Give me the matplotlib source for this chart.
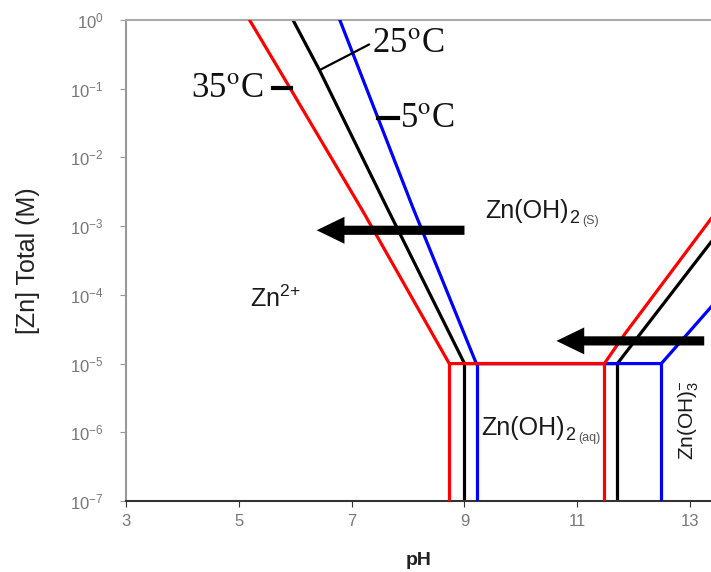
import numpy as np
import matplotlib
matplotlib.use('Agg')
import matplotlib.pyplot as plt

plt.rcParams['font.family'] = ['Liberation Sans', 'DejaVu Sans']
plt.rcParams['mathtext.fontset'] = 'custom'
plt.rcParams['mathtext.rm'] = 'Liberation Sans'
plt.rcParams['mathtext.it'] = 'Liberation Sans:italic'
plt.rcParams['mathtext.bf'] = 'Liberation Sans:bold'

## solubility boundaries (pH, log10 [Zn] total)
ph_35 = [5.19, 5.90, 7.19, 8.73, 11.48, 11.85, 13.40]
logc_35 = [0.0, -0.98, -2.77, -5.0, -5.0, -4.56, -2.86]
ph_25 = [5.96, 6.43, 7.62, 9.00, 11.71, 13.40]
logc_25 = [0.0, -0.73, -2.72, -5.0, -5.0, -3.20]
ph_5 = [6.79, 8.08, 9.21, 12.49, 13.40]
logc_5 = [0.0, -2.72, -5.0, -5.0, -4.15]

## pH of the vertical boundaries (Zn(OH)2(aq) region)
vert_35 = [8.73, 11.48]
vert_25 = [9.00, 11.71]
vert_5 = [9.23, 12.49]

colors = ['#ff0000', '#000000', '#0000ff']
zorders = [4, 2, 3]

xticks = [3, 5, 7, 9, 11, 13]
yticks = [1e-7, 1e-6, 1e-5, 1e-4, 1e-3, 1e-2, 1e-1, 1e0]

fig = plt.figure(figsize=(7.11, 5.72), dpi=100)
ax = fig.add_axes([126/711, 1 - 501/572, 585/711, 481/572])

c_low = 1e-7
series = [(ph_35, logc_35, vert_35), (ph_25, logc_25, vert_25), (ph_5, logc_5, vert_5)]
for (ph, lc, vert), col, z in zip(series, colors, zorders):
    ax.plot(ph, 10.0 ** np.array(lc), color=col, lw=2.3, zorder=z, solid_joinstyle='miter')
    for v in vert:
        ax.plot([v, v], [1e-5, c_low], color=col, lw=2.3, zorder=z)

ax.set_yscale('log')
ax.set_xlim(3, 13.37)
ax.set_ylim(1e-7, 1e0)
ax.set_xticks(xticks)
ax.set_xticklabels([str(t) for t in xticks])
ax.set_yticks(yticks)
ax.minorticks_off()
ax.yaxis.set_minor_locator(matplotlib.ticker.NullLocator())

ax.spines['right'].set_visible(False)
ax.spines['top'].set_color('#aaaaaa')
ax.spines['left'].set_color('#999999')
ax.spines['bottom'].set_color('#333333')
for s in ['top', 'left', 'bottom']:
    ax.spines[s].set_linewidth(1.5)
ax.tick_params(axis='both', direction='out', length=4, labelsize=12, labelcolor='#777777')
ax.tick_params(axis='y', color='#999999', pad=12)
ax.tick_params(axis='x', color='#333333', pad=5)

ax.set_xlabel('pH', fontsize=14, fontweight='bold', color='#222222', va='top')
ax.xaxis.set_label_coords(0.5, -0.105)
ax.set_ylabel('[Zn] Total (M)', fontsize=18, color='#222222')
ax.yaxis.set_label_coords(-0.147, 0.5)

## big arrows
arrow_kw = dict(arrowstyle='simple,head_length=1.0,head_width=0.97,tail_width=0.33',
                mutation_scale=20, fc='black', ec='none', shrinkA=0, shrinkB=0)
ax.annotate('', xy=(6.38, 10**-3.06), xytext=(9.0, 10**-3.06), arrowprops=arrow_kw, zorder=6)
ax.annotate('', xy=(10.63, 10**-4.67), xytext=(13.25, 10**-4.67), arrowprops=arrow_kw, zorder=6)

## temperature labels
tfont = dict(fontsize=25, family='Liberation Serif', math_fontfamily='stix', color='#111111')
ax.annotate('25$^{\\mathrm{o}}$C', xy=(6.43, 10**-0.73), xytext=(7.36, 10**-0.335),
            ha='left', va='center', arrowprops=dict(arrowstyle='-', lw=1.6, color='black',
            shrinkA=0, shrinkB=0, relpos=(0, 0.5)), **tfont)
ax.text(5.43, 10**-0.99, '35$^{\\mathrm{o}}$C', ha='right', va='center', **tfont)
ax.plot([5.61, 5.93], [10**-0.99, 10**-0.99], color='black', lw=3, zorder=5)
ax.text(7.85, 10**-1.43, '5$^{\\mathrm{o}}$C', ha='left', va='center', **tfont)
ax.plot([7.47, 7.83], [10**-1.43, 10**-1.43], color='black', lw=3, zorder=5)

## species labels
def species(x, y, main, sub, phase):
    t1 = ax.text(x, y, main, ha='left', va='baseline', fontsize=18, color='#1a1a1a')
    t2 = ax.annotate(sub, xy=(1, 0), xycoords=t1, xytext=(0.5, -3), textcoords='offset points',
                     ha='left', va='bottom', fontsize=13, color='#1a1a1a')
    ax.annotate(phase, xy=(1, 0), xycoords=t2, xytext=(2, 0), textcoords='offset points',
                ha='left', va='bottom', fontsize=9, color='#555555')

species(9.37, 10**-2.88, 'Zn(OH)', '2', '(S)')
species(9.30, 10**-6.04, 'Zn(OH)', '2', '(aq)')
ax.text(5.2, 10**-4.18, 'Zn$^{2{+}}$', ha='left', va='baseline', fontsize=18, color='#1a1a1a')
ax.text(12.98, 10**-6.40, 'Zn(OH)$_{\\mathrm{3}}^{-}$', ha='center', va='bottom', rotation=90,
        fontsize=15, color='#1a1a1a')

fig.savefig('out.png', dpi=100)
